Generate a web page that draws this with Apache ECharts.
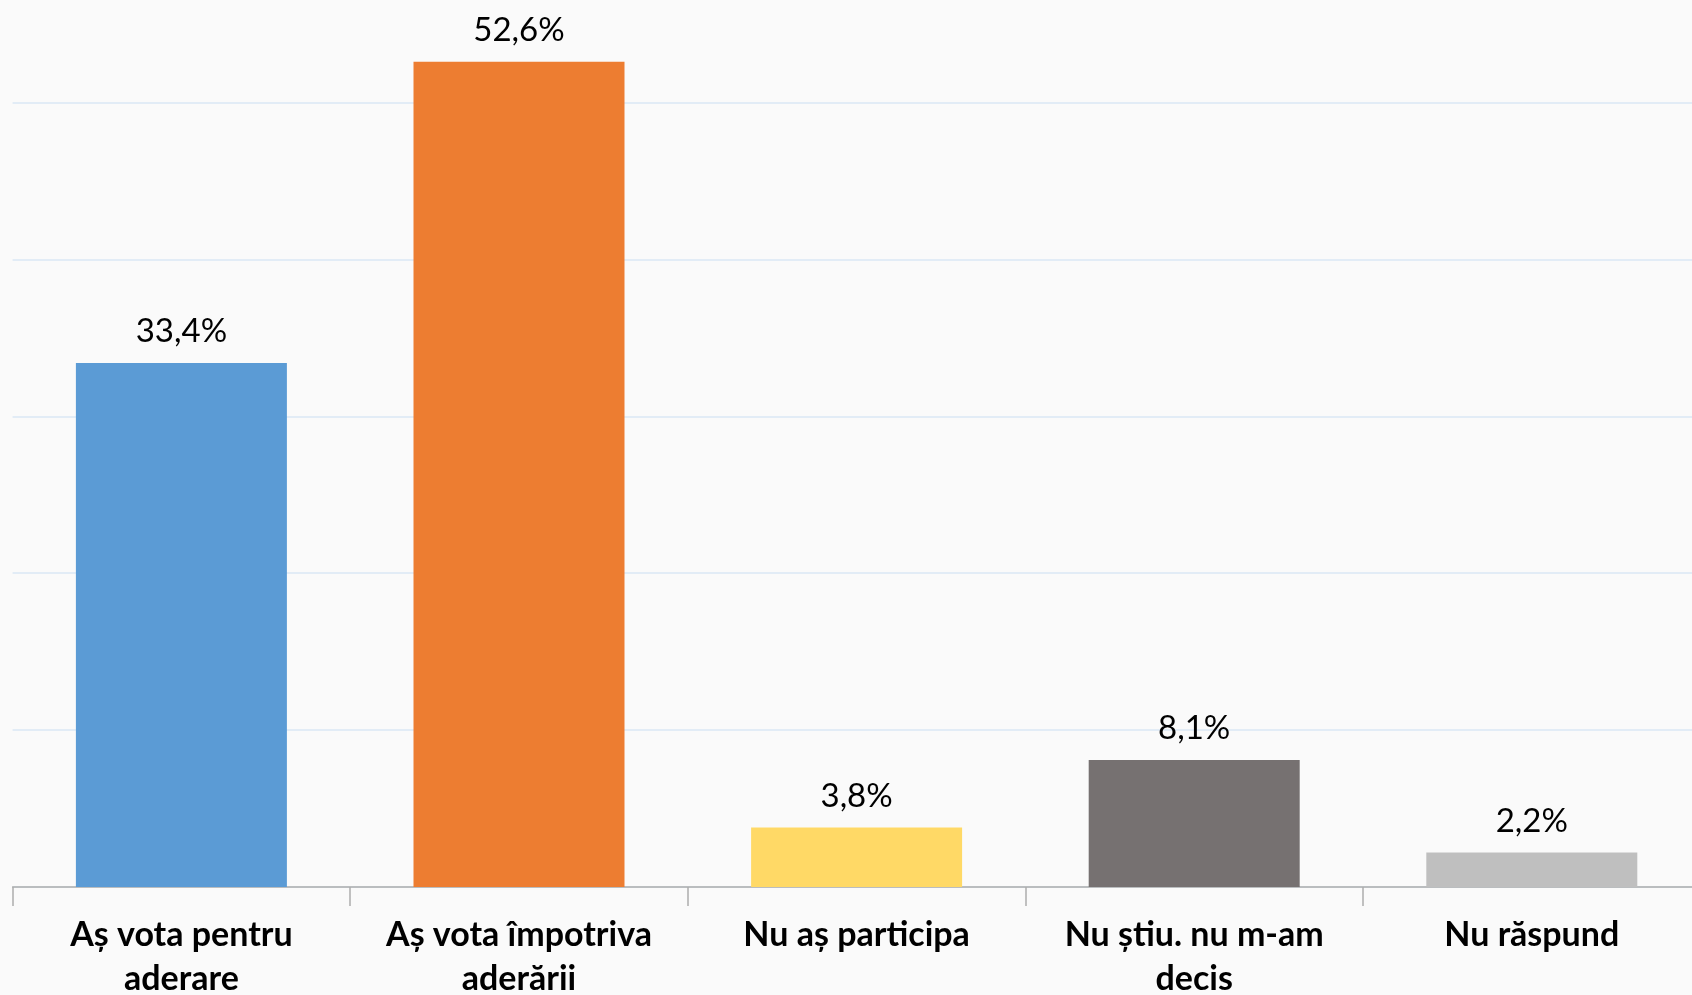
<!DOCTYPE html>
<html>
<head>
<meta charset="utf-8">
<script src="https://cdn.jsdelivr.net/npm/echarts@6/dist/echarts.min.js"></script>
<style>
  html, body { margin: 0; padding: 0; background: #fafafa; }
  #chart { width: 1692px; height: 995px; }
</style>
</head>
<body>
<div id="chart"></div>
<script>
const categories = [
  "Aș vota pentru\naderare",
  "Aș vota împotriva\naderării",
  "Nu aș participa",
  "Nu știu. nu m-am\ndecis",
  "Nu răspund"
];
const values = [33.4, 52.6, 3.8, 8.1, 2.2];
const barColors = ["#5b9bd5", "#ed7d31", "#ffd966", "#767171", "#bfbfbf"];

const chart = echarts.init(document.getElementById('chart'));
chart.setOption({
  backgroundColor: '#fafafa',
  animation: false,
  grid: { left: 12.6, right: -8.6, top: -54.4, bottom: 108, containLabel: false, outerBoundsMode: 'none' },
  xAxis: {
    type: 'category',
    data: categories,
    boundaryGap: true,
    axisLine: { show: true, lineStyle: { color: '#adadad', width: 1.5 } },
    axisTick: { show: true, length: 19, alignWithLabel: false, lineStyle: { color: '#adadad', width: 1.5 } },
    axisLabel: {
      interval: 0,
      margin: 26,
      color: '#000',
      fontFamily: 'Lato',
      fontWeight: 'bold',
      fontSize: 34,
      lineHeight: 44
    }
  },
  yAxis: {
    type: 'value',
    min: 0,
    max: 60,
    interval: 10,
    axisLine: { show: false },
    axisTick: { show: false },
    axisLabel: { show: false },
    splitLine: { show: true, lineStyle: { color: '#dae7f4', width: 1.5 } }
  },
  series: [{
    type: 'bar',
    data: values.map((v, i) => ({ value: v, itemStyle: { color: barColors[i] } })),
    barWidth: '62.5%',
    label: {
      show: true,
      position: 'top',
      distance: 15,
      color: '#000',
      fontFamily: 'Lato',
      fontSize: 33,
      formatter: p => p.value.toFixed(1).replace('.', ',') + '%'
    }
  }]
});
</script>
</body>
</html>
